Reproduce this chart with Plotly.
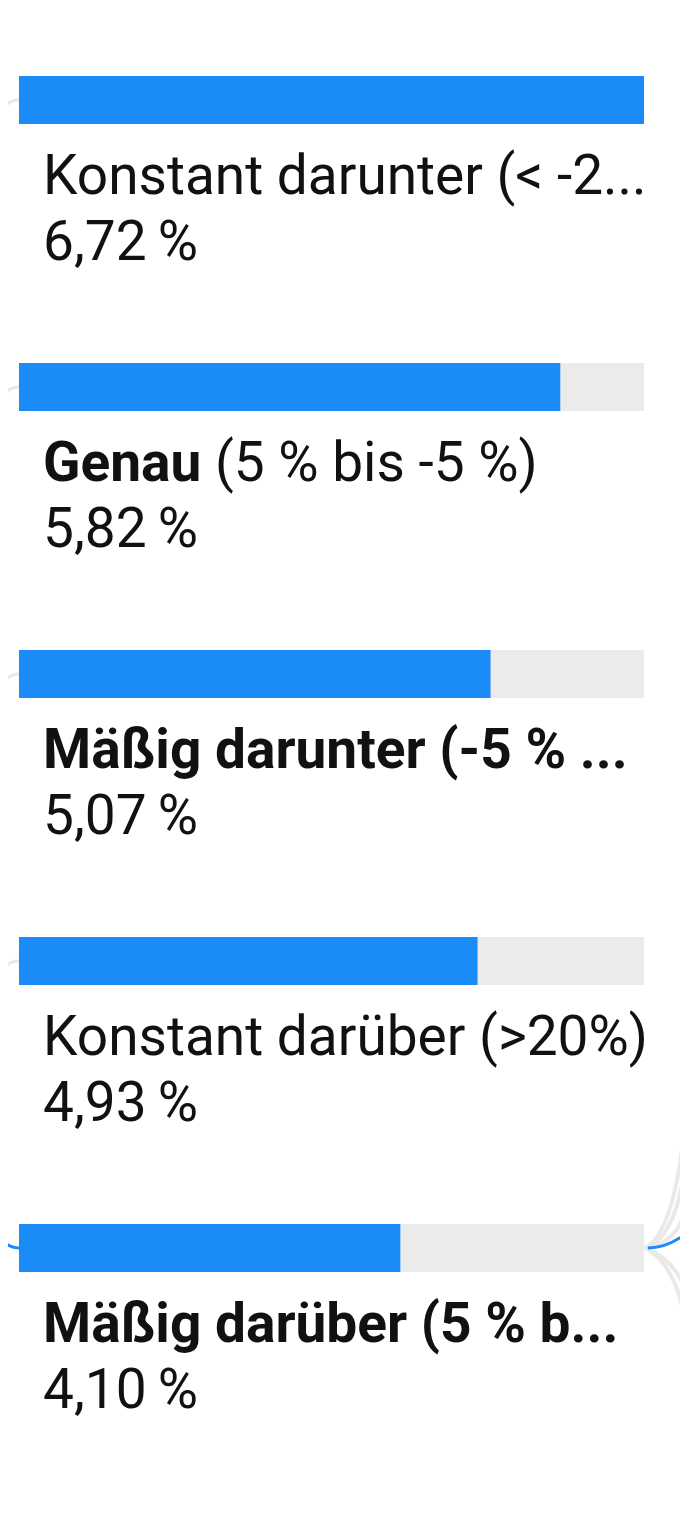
import plotly.graph_objects as go

# Daten
kategorien = [
    "Konstant darunter (< -2...",
    "<b>Genau</b> (5 % bis -5 %)",
    "<b>Mäßig darunter (-5 % ...</b>",
    "Konstant darüber (>20%)",
    "<b>Mäßig darüber (5 % b...</b>",
]
werte = [6.72, 5.82, 5.07, 4.93, 4.10]
wert_texte = ["6,72\u2009%", "5,82\u2009%", "5,07\u2009%", "4,93\u2009%", "4,10\u2009%"]

BLAU = "#1b8cf7"
GRAU = "#ebebeb"
LINIE = "#e9e9e9"
W, H = 688, 1524
OFF = 8          # Seitenrand des Browsers
abstand = 287    # px zwischen den Balken
oben = 100       # Mitte des ersten Balkens (px)

pos = list(range(len(werte)))
maximum = max(werte)


def px(x, y):
    # Pixel im Screenshot -> paper-Koordinaten
    return (x - OFF) / W, 1 - (y - OFF) / H


def bogen(p0, c, p1, farbe, breite=3):
    a, b, d = px(*p0), px(*c), px(*p1)
    return dict(type="path", xref="paper", yref="paper", layer="below",
                path="M %.4f,%.4f Q %.4f,%.4f %.4f,%.4f" % (a + b + d),
                line=dict(color=farbe, width=breite))


fig = go.Figure()
# Hintergrund-Spur
fig.add_trace(go.Bar(x=[maximum] * len(werte), y=pos, orientation="h",
                     marker=dict(color=GRAU, line=dict(width=0)),
                     width=48 / abstand, hoverinfo="skip"))
# eigentlicher Wert
fig.add_trace(go.Bar(x=werte, y=pos, orientation="h",
                     marker=dict(color=BLAU, line=dict(width=0)),
                     width=48 / abstand, text=wert_texte, hoverinfo="x"))
fig.update_traces(textposition="none")

for i, (k, t) in enumerate(zip(kategorien, wert_texte)):
    fig.add_annotation(x=0, y=i, xref="x", yref="y", text=k, showarrow=False,
                       xanchor="left", yanchor="middle", xshift=22, yshift=-75,
                       font=dict(family="Roboto", size=55, color="#111111"))
    fig.add_annotation(x=0, y=i, xref="x", yref="y", text=t, showarrow=False,
                       xanchor="left", yanchor="middle", xshift=22, yshift=-141,
                       font=dict(family="Roboto", size=55, color="#111111"))

# dekorative Verbindungslinien am Rand (blasse Reste)
deko = []
for i in range(len(werte) - 1):
    yc = oben + abstand * i
    deko.append(bogen((0, yc + 16), (5, yc), (19, yc), LINIE))
yc = oben + abstand * (len(werte) - 1)
deko.append(bogen((0, yc - 12), (6, yc), (19, yc), BLAU))
for y_end, c_y in [(1080, 1230), (1140, 1238), (1300, 1262), (1340, 1266), (1200, 1244)]:
    deko.append(bogen((645, yc), (680, c_y), (688, y_end), LINIE, 4))
deko.append(bogen((648, yc), (668, yc), (688, yc - 16), BLAU))

yoben = (oben - OFF) / abstand
fig.update_layout(
    width=W, height=H,
    margin=dict(l=0, r=0, t=0, b=0),
    paper_bgcolor="white", plot_bgcolor="white",
    barmode="overlay", showlegend=False,
    shapes=deko,
    xaxis=dict(range=[0, maximum], domain=[(19 - OFF) / W, (644 - OFF) / W],
               visible=False, fixedrange=True),
    yaxis=dict(range=[(H - oben + OFF) / abstand, -yoben], visible=False,
               fixedrange=True),
)

fig.write_html("out.html")
